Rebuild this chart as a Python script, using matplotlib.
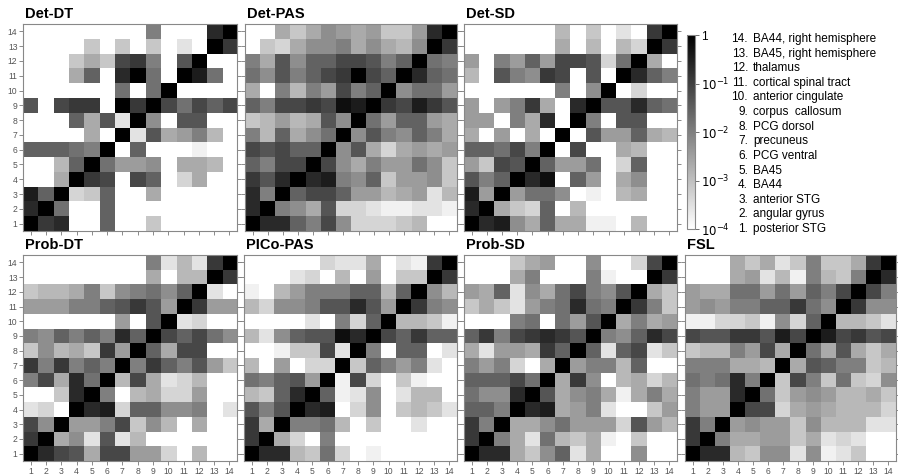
import numpy as np
import matplotlib
matplotlib.use("Agg")
import matplotlib.pyplot as plt
from matplotlib.colors import LogNorm

plt.rcParams['font.family'] = ['Liberation Sans', 'DejaVu Sans']

# Darkness levels (0 = white = 1e-4, 9 = black = 1), rows listed from region 14 (top) down to 1
det_dt = """
0 0 0 0 0 0 0 0 4.5 0 0 0 7.5 9
0 0 0 0 2 0 2 0 2 0 1 0 9 7
0 0 0 2 3 2 6.5 7 4.5 0 6 9 0 0
0 0 0 3 5.5 0 7.5 9 5 0 9 8 5 0
0 0 0 0 0 0 5 0 5 9 0 0 0 0
6 0 6.5 7 7 0 9 7 9 6.5 5 6.5 5.5 6.5
0 0 0 5.5 3 6 1 9 4 0 6 6 0 0
0 0 0 0 3 0 9 1 6 3 3.5 4.5 2.5 0
5.5 5.5 5.5 5 4.5 9 0 5.5 0 0 0 0.5 0 0
0 0 2.5 5.5 9 5 3.5 3.5 4 0 3 3 2.5 0
0 0 3 9 7 6.5 0 6.5 5.5 0 1.5 3 0 0
8 5.5 9 1.5 2 5.5 0 0 3 0 0 0 0 0
7.5 9 5 0 0 5.5 0 0 0 0 0 0 0 0
9 7 7.5 0 0 5.5 0 0 2 0 0 0 0 0
"""

det_pas = """
0 0 3 2 3 4 3.5 3 3.5 2 2 3.5 7.5 9
0 2 1.5 3 4 4 4.5 3 4 3 2.5 4 9 7
4.5 3 6 4 5.5 5.5 6.5 6.5 6 4.5 5.5 9 5 4.5
5 4 6 4.5 5.5 6.5 7 9 6.5 5.5 9 7.5 5.5 5
3 0 4.5 2.5 4.5 3.5 6.5 4.5 5.5 9 4 5 5 3.5
5.5 4.5 6.5 6.5 7 6.5 8.5 8 9 7 6.5 8 7 6
2 2.5 3.5 2.5 3 6 4 9 5 3.5 5.5 5.5 3.5 3
4.5 2.5 5.5 3 4 5 9 4 6 4.5 4 5.5 4.5 3
6.5 6 6.5 5.5 5.5 9 4 6 3 1.5 3 3.5 3 3.5
5.5 4.5 6.5 6.5 9 6.5 4 3 4.5 3.5 3.5 5 4 2
7 6 7.5 9 7.5 8 4.5 4 5.5 2 3.5 3.5 4 2
7.5 4.5 9 5.5 6.5 6.5 5.5 3.5 3.5 2.5 3 3.5 1 2.5
7.5 9 4.5 4 3 6 1.5 1.5 1 0.5 0.5 1 1 0.5
9 7.5 7.5 5.5 4.5 6.5 4 1.5 1.5 1.5 2 2.5 0 0
"""

det_sd = """
0 0 0 0 0 0 2.5 0 2 0 1 0 7 9
0 0 0 0 0 0 3 0 2.5 0 2.5 1.5 9 7
3.5 0 4.5 3.5 5.5 3.5 6.5 6.5 6 1.5 5 9 3 0
2.5 0 6 4.5 4 7 6.5 0 6 0 9 7.5 5.5 4.5
0 0 0 0 0 0 4.5 0 4 9 0 1.5 0 0
3.5 0 3.5 4.5 7 3 0 7.5 9 6 6 7.5 5.5 5
3.5 3.5 0 4.5 3 7.5 0 9 4.5 0 6 6 0 0
3 0 3.5 0 3 0 9 0 6 3.5 3.5 5.5 3 2.5
5.5 5.5 5 6.5 4.5 9 0 6.5 0 0 3 2.5 0 0
3.5 2 6.5 6 9 5.5 3.5 3.5 5 0 1.5 5.5 0 0
6 4.5 5.5 9 7.5 8.5 0 5.5 3.5 0 3 4 0 0
8 3.5 9 3.5 5 5 4 0 0.5 0 2.5 3 0 0
7.5 9 3 2 1.5 5.5 0 2.5 0 0 0 0 0 0
9 7.5 8 4 3 5.5 3 3 0.5 0.5 0 2.5 0 0
"""

prob_dt = """
0 0 0 0 0 0 0 0 4.5 1 2.5 1 7 9
0 0 0 0 0 0 0 0 3 0 2.5 2.5 9 7
2 2.5 2.5 3 4.5 2 4 4.5 5 4 5.5 9 1 0
3.5 3.5 3.5 4.5 4.5 5.5 6 7 6 3.5 9 7 3.5 3.5
0 0 0 0 0 0 3.5 0 6 9 1 1.5 0 0
4.5 4 5.5 4.5 5.5 4.5 7.5 5.5 9 6.5 5.5 6.5 5 4
2 4 2.5 3 2 7 3.5 9 5.5 3 6.5 6.5 0 0
7 4.5 7 4.5 5.5 4.5 9 4.5 7 5.5 4.5 6 3.5 2
4.5 6.5 3 7.5 5 9 2.5 6.5 3 1 1.5 2.5 0 0
0 0 2 7.5 9 4.5 0 2.5 3 1.5 1.5 3.5 0 0
1 1.5 0 9 7.5 8 1.5 5.5 5.5 4 4 4.5 0 1
6.5 4 9 3.5 3.5 4.5 6.5 2 4 2.5 0 3 0 0
7 9 3 4 1 6 1 2.5 0 0 0 0 0 0
9 7.5 6.5 6 3 6.5 6.5 3.5 3.5 1.5 0 2.5 0 0
"""

pico_pas = """
0 0 0 0 0 1.5 1 1 3 0 1 0.5 7 9
0 0 0 1 1.5 0 2.5 0 3.5 0 2 2 9 7
0.5 0 2.5 3.5 4.5 4.5 4.5 5.5 5.5 2.5 5.5 9 4 2.5
2.5 1.5 4 4 4.5 6 6 7.5 6 3.5 9 7 4.5 4
0 0 0 0 1 0 4.5 1.5 5.5 9 2.5 2.5 2 0.5
2.5 1 4 5.5 6 6 8.5 7.5 9 6.5 5.5 7 5.5 5.5
0 0 0.5 2 2 6.5 1 9 4.5 0 5.5 5.5 0 1
2.5 0 3.5 0 1.5 1.5 9 2 5.5 4.5 3.5 4.5 1 0
5 4.5 5.5 6 3.5 9 0.5 6.5 1.5 0 2 0.5 0 0
2.5 2 5.5 7.5 9 5.5 0.5 1 4 0 1 2.5 2.5 0
6 4.5 6 9 7.5 8 0 1.5 4 0 2 2.5 2 1
7 3 9 4.5 4.5 5 2.5 0 2 0 0 1 0 0
7 9 3 1.5 0 4.5 0 0 0 0 0 0 0 0
9 7.5 7.5 2.5 2 5 1.5 0 0.5 0 0 0 0 0
"""

prob_sd = """
0 0 0 2 3 3.5 0 0 4 0 0 1.5 6.5 9
0 0 0 3 4.5 0 0 0 4.5 0.5 0 0 9 7
3.5 3 5.5 1 4 3 5 6.5 4.5 4 6 9 3 2
2 3 2 1 3.5 4.5 5 7.5 5 4.5 9 7 4.5 2
0 0 0 4.5 5 0 5 3.5 6 9 3 4.5 3 3.5
5.5 7 4.5 6.5 7 7.5 7 6 9 4.5 4 5.5 7.5 6.5
3 1 3.5 3.5 3 7 5.5 9 5.5 1 5.5 6.5 1 2
4.5 3.5 4.5 1.5 0 3 9 3.5 4.5 4.5 2.5 5.5 0 0
5.5 5.5 5.5 6.5 5 9 3 7 4 0 2.5 3 1.5 2.5
5 4 4 7.5 9 6 3 4 4.5 3 0.5 3 4.5 3
5.5 5.5 4.5 9 7.5 8 3 3.5 4.5 1 0 0 2 3.5
7 4.5 9 3 3 4 5 3.5 3.5 3.5 1.5 6 3.5 2.5
7 9 4.5 3 1 5 2.5 2 3 0.5 0 2 0 0
9 7.5 7.5 3 2 4 5.5 1 3 0 0 4 0 0
"""

fsl = """
0 0 0 3 2 3 1 2 4.5 2 2 3 7 9
0 0 0 3 3.5 1 2.5 0.5 4.5 2.5 2 4.5 9 7.5
3.5 3 3 5 5 3.5 5 3.5 5.5 4.5 6.5 9 6.5 4.5
3.5 4 3.5 4.5 4.5 5.5 5.5 7 5 4 9 7 4 4
0.5 0.5 1.5 1.5 2 0.5 4 1.5 5.5 9 2.5 2.5 2 1
6.5 6 6 7 7 6 8 6.5 9 8 6.5 7 6 6.5
2 2.5 2.5 4.5 3.5 6.5 3 9 5 3 6 3 2 3
4.5 4.5 4.5 3 3 2.5 9 3 6 5.5 4.5 4.5 2 2.5
5 4.5 5 7.5 4.5 9 2 6.5 4.5 2 5 2 1.5 4
4.5 3.5 3.5 7.5 9 5 2 3.5 4 3.5 2.5 2.5 3 2
4.5 3.5 3.5 9 6.5 6.5 1.5 3 3.5 3 2.5 2.5 2.5 1.5
7 4.5 9 3.5 4 3.5 3.5 2 4 2.5 2.5 2.5 1 1
7 9 4.5 3 3 3.5 3.5 2 3 1 1.5 1 0 0
9 7.5 7.5 2.5 2 4 4 1 4 0.5 1 2 0 0
"""

titles = ["Det-DT", "Det-PAS", "Det-SD", "Prob-DT", "PICo-PAS", "Prob-SD", "FSL"]
matrices = [det_dt, det_pas, det_sd, prob_dt, pico_pas, prob_sd, fsl]

regions = ["posterior STG", "angular gyrus", "anterior STG", "BA44", "BA45",
           "PCG ventral", "precuneus", "PCG dorsol", "corpus  callosum",
           "anterior cingulate", "cortical spinal tract", "thalamus",
           "BA45, right hemisphere", "BA44, right hemisphere"]

cbar_ticks = [1e-4, 1e-3, 1e-2, 1e-1, 1]
cbar_labels = ["$10^{-4}$", "$10^{-3}$", "$10^{-2}$", "$10^{-1}$", "1"]


def parse(s):
    rows = [list(map(float, r.split())) for r in s.strip().splitlines()]
    d = np.array(rows)[::-1]  # row index 0 -> region 1
    return 10.0 ** (-4 + 4 * d / 9.0)


W, H = 898, 475
# pixel boxes: x0, y0(top), x1, y1(bottom)
boxes = [(23, 24, 237, 231), (245, 24, 457, 231), (464, 24, 677, 231),
         (23, 255, 237, 461), (244, 255, 457, 461), (464, 255, 677, 461),
         (685, 255, 896, 461)]

fig = plt.figure(figsize=(W / 100, H / 100), dpi=100)
norm = LogNorm(vmin=1e-4, vmax=1)
n = 14
im = None
for i, (title, mat, (x0, y0, x1, y1)) in enumerate(zip(titles, matrices, boxes)):
    ax = fig.add_axes([x0 / W, 1 - y1 / H, (x1 - x0) / W, (y1 - y0) / H])
    data = parse(mat)
    im = ax.imshow(data, cmap='gray_r', norm=norm, origin='lower',
                   extent=(0.5, n + 0.5, 0.5, n + 0.5), aspect='auto',
                   interpolation='nearest')
    ticks = np.arange(1, n + 1)
    ax.set_xticks(ticks)
    ax.set_yticks(ticks)
    ax.tick_params(direction='out', length=3, width=0.6, color='#777777',
                   labelsize=6.2, labelcolor='#555555', pad=1,
                   left=True, right=True, bottom=True, top=False)
    bottom_row = i >= 3
    ax.set_xticklabels([str(t) for t in ticks] if bottom_row else [])
    ax.set_yticklabels([str(t) for t in ticks] if i in (0, 3) else [])
    for sp in ax.spines.values():
        sp.set_color('#888888')
        sp.set_linewidth(0.8)
    fig.text((x0 + 2) / W, 1 - (y0 - 3) / H, title, fontsize=10.5,
             fontweight='bold', ha='left', va='bottom')

# colorbar
cax = fig.add_axes([687 / W, 1 - 229 / H, 8 / W, (229 - 35) / H])
cb = fig.colorbar(im, cax=cax, orientation='vertical')
cb.set_ticks(cbar_ticks)
cb.set_ticklabels(cbar_labels)
cb.ax.minorticks_off()
cb.ax.tick_params(labelsize=8.5, length=3, width=0.6, color='#555555', pad=1)
cb.outline.set_edgecolor('#888888')
cb.outline.set_linewidth(0.8)

# region legend
top_y, bot_y = 39, 229
for k in range(n):
    num = n - k
    y = top_y + (bot_y - top_y) * k / (n - 1)
    fig.text(748 / W, 1 - y / H, f"{num}.", fontsize=8.5, ha='right', va='center')
    fig.text(753 / W, 1 - y / H, regions[num - 1], fontsize=8.5, ha='left', va='center')

fig.savefig("out.png", dpi=100)
